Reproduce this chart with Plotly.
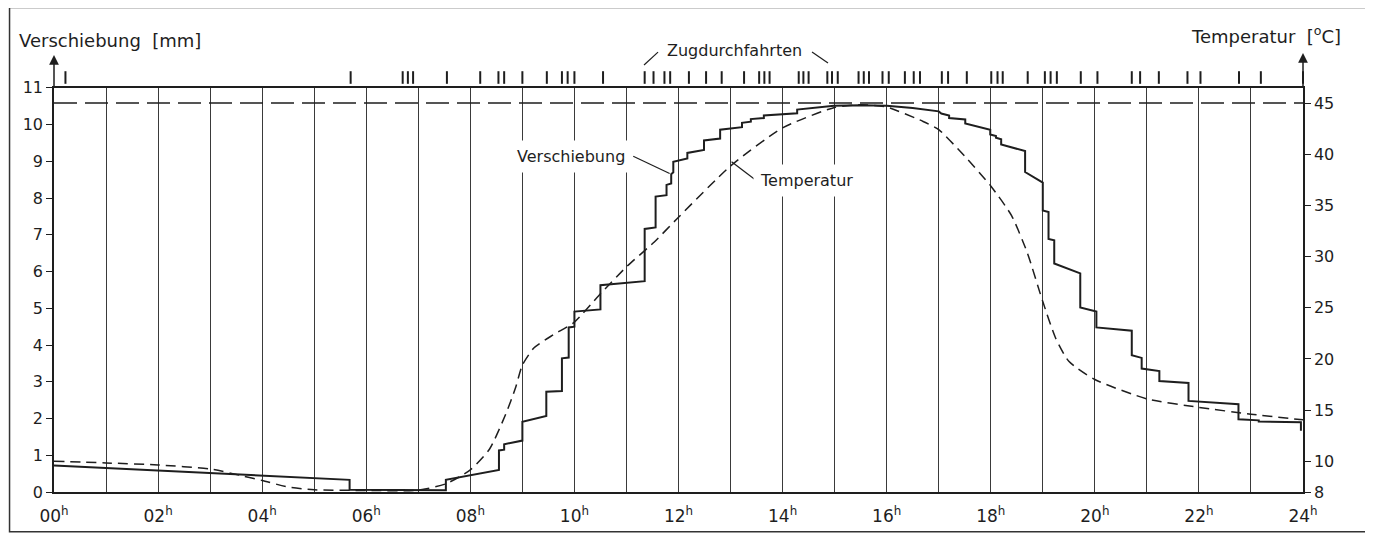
import plotly.graph_objects as go

# ---------------- data ----------------
# Verschiebung (displacement) step curve, hours / mm
disp_h = [0, 5.68, 5.68, 7.0, 7.53, 7.53, 8.55, 8.55, 8.65, 8.65, 9.0, 9.0, 9.46, 9.46, 9.76, 9.76,
          9.89, 9.89, 10.0, 10.0, 10.5, 10.5, 11.35, 11.35, 11.56, 11.56, 11.77, 11.77, 11.86, 11.86,
          11.9, 11.9, 12.17, 12.17, 12.49, 12.49, 12.8, 12.8, 13.22, 13.22, 13.39, 13.39, 13.64, 13.64,
          14.28, 14.28, 14.99, 15.5, 16.0, 16.5, 17.0, 17.05, 17.2, 17.2, 17.51, 17.51, 17.99, 17.99,
          18.1, 18.1, 18.2, 18.2, 18.66, 18.66, 19.0, 19.0, 19.11, 19.11, 19.22, 19.22, 19.72, 19.72,
          20.03, 20.03, 20.71, 20.71, 20.9, 20.9, 21.24, 21.24, 21.8, 21.8, 22.76, 22.76, 23.15, 23.15,
          23.96, 23.96]
disp_mm = [0.72, 0.33, 0.06, 0.05, 0.05, 0.33, 0.60, 1.13, 1.15, 1.30, 1.40, 1.91, 2.07, 2.73, 2.75, 3.64,
           3.66, 4.48, 4.50, 4.91, 4.97, 5.63, 5.74, 7.16, 7.20, 8.04, 8.08, 8.36, 8.40, 8.65,
           8.70, 8.99, 9.08, 9.23, 9.31, 9.57, 9.62, 9.86, 9.93, 10.05, 10.08, 10.15, 10.18, 10.25,
           10.31, 10.41, 10.51, 10.53, 10.51, 10.45, 10.36, 10.30, 10.25, 10.18, 10.14, 10.03, 9.86, 9.73,
           9.69, 9.64, 9.60, 9.46, 9.28, 8.71, 8.42, 7.66, 7.62, 6.89, 6.85, 6.22, 5.95, 5.02,
           4.91, 4.48, 4.39, 3.72, 3.65, 3.36, 3.29, 3.02, 2.97, 2.48, 2.39, 1.98, 1.95, 1.92,
           1.90, 1.67]

# Temperatur curve, hours / deg C
temp_h = [0, 1, 2, 3, 3.6, 4, 4.5, 5, 6, 7.0, 7.53, 8.0, 8.37, 8.68, 8.87, 9.0, 9.22, 9.59, 10.0,
          10.47, 11.0, 11.53, 12.0, 13.0, 14.0, 15.0, 15.5, 16.0, 16.7, 17.0, 17.5, 18.0, 18.4, 18.7,
          19.0, 19.25, 19.5, 20.0, 21.0, 22.0, 23.0, 24.0]
temp_c = [10.0, 9.84, 9.64, 9.25, 8.6, 8.13, 7.48, 7.22, 7.15, 7.18, 7.8, 9.16, 11.2, 14.6, 17.2, 19.4,
          21.06, 22.35, 23.6, 26.2, 29.0, 31.4, 33.84, 38.85, 42.57, 44.57, 44.83, 44.6, 43.2, 42.4,
          39.8, 36.9, 34.0, 30.4, 25.6, 22.0, 19.77, 17.99, 16.1, 15.27, 14.6, 14.05]

# Zugdurchfahrten (train passages), hours
train_h = [0.22, 5.70, 6.70, 6.80, 6.90, 7.55, 8.19, 8.54, 8.65, 9.0, 9.47, 9.76, 9.87, 10.0, 10.55,
           11.35, 11.52, 11.73, 11.84, 12.2, 12.53, 12.83, 13.26, 13.55, 13.65, 13.75, 14.31, 14.4,
           14.5, 14.86, 14.95, 15.06, 15.46, 15.56, 15.66, 15.92, 16.04, 16.35, 16.52, 16.64, 17.06,
           17.18, 17.54, 18.01, 18.13, 18.23, 18.71, 19.04, 19.15, 19.27, 19.73, 20.05, 20.71, 20.87,
           21.23, 21.78, 22.03, 22.77, 23.19, 24.0]

ref_temp = 45  # dashed reference line

x_tickvals = list(range(0, 25))
x_ticktext = [("%02d<sup>h</sup>" % h) if h % 2 == 0 else "" for h in x_tickvals]
y_tickvals = list(range(0, 12))
t_range = [7.0, 46.48]
t_tickvals = [7.0, 10, 15, 20, 25, 30, 35, 40, 45]
t_ticktext = ["8", "10", "15", "20", "25", "30", "35", "40", "45"]

INK = "#1e1e1e"
FONT = "DejaVu Sans"
MAIN_TOP = 407 / 425  # main panel share of plot height (rest: train strip)

fig = go.Figure()

fig.add_trace(go.Scatter(x=[0, 24], y=[ref_temp, ref_temp], yaxis="y2", mode="lines",
                         line=dict(color=INK, width=1.3, dash="23px,8px"), showlegend=False))
fig.add_trace(go.Scatter(x=temp_h, y=temp_c, yaxis="y2", mode="lines",
                         line=dict(color=INK, width=1.5, dash="10px,6px", shape="spline", smoothing=0.6),
                         showlegend=False))
fig.add_trace(go.Scatter(x=disp_h, y=disp_mm, mode="lines",
                         line=dict(color=INK, width=2), showlegend=False))
fig.add_trace(go.Scatter(x=train_h, y=[0.58] * len(train_h), xaxis="x2", yaxis="y3", mode="markers",
                         cliponaxis=False,
                         marker=dict(symbol="line-ns-open", size=9, color=INK, line=dict(color=INK, width=2)),
                         showlegend=False))

annotations = [
    dict(text="Verschiebung&nbsp;&nbsp;[mm]", xref="paper", yref="paper", x=-0.0296, y=1.0706,
         xanchor="left", yanchor="middle", showarrow=False, font=dict(size=18, color=INK, family=FONT)),
    dict(text="Temperatur&nbsp;&nbsp;[<sup>o</sup>C]", xref="paper", yref="paper", x=1.032, y=1.0824,
         xanchor="right", yanchor="middle", showarrow=False, font=dict(size=18, color=INK, family=FONT)),
    dict(text="Zugdurchfahrten", xref="x", yref="paper", x=13.07, y=1.047,
         xanchor="center", yanchor="middle", showarrow=False, font=dict(size=16, color=INK, family=FONT)),
    dict(text="Verschiebung", xref="x", yref="y", x=9.94, y=9.14, xanchor="center", yanchor="middle",
         showarrow=False, bgcolor="white", borderpad=6, font=dict(size=16, color=INK, family=FONT)),
    dict(text="Temperatur", xref="x", yref="y", x=14.46, y=8.47, xanchor="center", yanchor="middle",
         showarrow=False, bgcolor="white", borderpad=6, font=dict(size=16, color=INK, family=FONT)),
    # axis arrows
    dict(text="", xref="paper", yref="paper", x=0, y=1.0353, ax=0, ay=33, showarrow=True,
         arrowhead=2, arrowsize=1.3, arrowwidth=1.5, arrowcolor=INK),
    dict(text="", xref="paper", yref="paper", x=1, y=1.040, ax=0, ay=35, showarrow=True,
         arrowhead=2, arrowsize=1.3, arrowwidth=1.5, arrowcolor=INK),
]

shapes = [
    # leader lines
    dict(type="line", xref="x", yref="y", x0=11.13, y0=9.14, x1=11.83, y1=8.67,
         line=dict(color=INK, width=1.2)),
    dict(type="line", xref="x", yref="y", x0=13.50, y0=8.47, x1=13.02, y1=8.99,
         line=dict(color=INK, width=1.2)),
    dict(type="line", xref="paper", yref="paper", x0=0.4724, y0=1.0118, x1=0.4836, y1=1.0424,
         line=dict(color=INK, width=1.2)),
    dict(type="line", xref="paper", yref="paper", x0=0.6069, y0=1.0424, x1=0.6197, y1=1.0165,
         line=dict(color=INK, width=1.2)),
    # outer frame
    dict(type="rect", xref="paper", yref="paper", x0=-0.0356, y0=-0.0941, x1=1.052, y1=1.148,
         line=dict(color="#333", width=1.5)),
]

fig.update_layout(
    width=1365, height=530, autosize=False,
    margin=dict(l=46, r=70, t=62, b=43),
    paper_bgcolor="white", plot_bgcolor="white",
    font=dict(family=FONT, color=INK),
    xaxis=dict(range=[0, 24], domain=[0, 1], anchor="y", tickvals=x_tickvals, ticktext=x_ticktext,
               showgrid=True, gridcolor="#3a3a3a", gridwidth=1, showline=True, linecolor=INK,
               linewidth=1.5, mirror=True, ticks="outside", ticklen=8, tickcolor="rgba(0,0,0,0)",
               tickfont=dict(size=17), zeroline=False),
    yaxis=dict(range=[0, 11], domain=[0, MAIN_TOP], tickvals=y_tickvals, showgrid=False, showline=True,
               linecolor=INK, linewidth=1.5, ticks="outside", ticklen=6, tickcolor=INK,
               tickfont=dict(size=16), zeroline=False),
    yaxis2=dict(range=t_range, overlaying="y", side="right", tickvals=t_tickvals, ticktext=t_ticktext,
                showgrid=False, showline=True, linecolor=INK, linewidth=1.5, ticks="outside",
                ticklen=6, tickcolor=INK, tickfont=dict(size=16), zeroline=False),
    xaxis2=dict(range=[0, 24], domain=[0, 1], anchor="y3", visible=False, showgrid=False),
    yaxis3=dict(range=[0, 1], domain=[MAIN_TOP, 1], anchor="x2", visible=False, showgrid=False),
    annotations=annotations, shapes=shapes, showlegend=False,
)

fig.write_html("out.html")
